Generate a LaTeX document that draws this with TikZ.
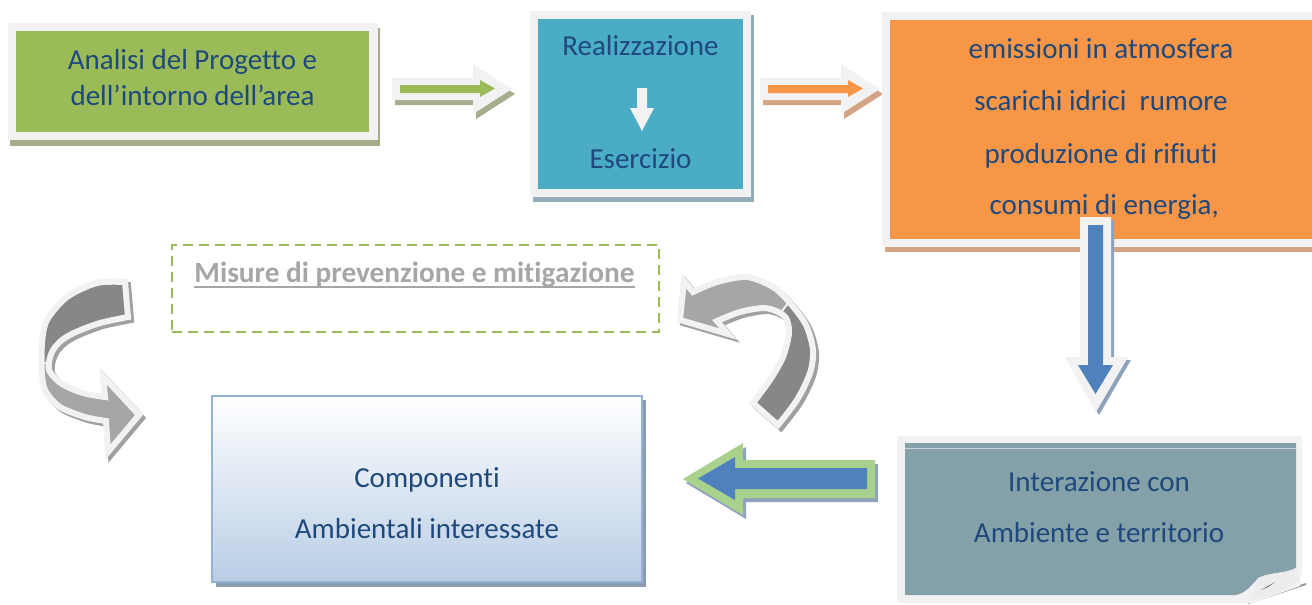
\documentclass[tikz,border=0pt]{standalone}
\usepackage{fontspec}
\setmainfont[Ligatures={NoCommon,NoRequired,NoContextual}]{Carlito}
\definecolor{txt}{HTML}{1F497D}
\definecolor{frame}{HTML}{F2F2F2}
\definecolor{grn}{HTML}{9BBB59}
\definecolor{grnsh}{HTML}{A5AE8B}
\definecolor{cyanb}{HTML}{4BACC6}
\definecolor{cyansh}{HTML}{93ADBB}
\definecolor{orng}{HTML}{F79646}
\definecolor{orngsh}{HTML}{D2A483}
\definecolor{tealb}{HTML}{84A0A8}
\definecolor{blu}{HTML}{4F81BD}
\definecolor{lgrn}{HTML}{A9D18E}
\definecolor{blush}{HTML}{8FA2BC}
\definecolor{cbord}{HTML}{95B3D7}
\definecolor{cbot}{HTML}{B9CDE5}
\definecolor{csh}{HTML}{8D9DB1}
\definecolor{misgray}{HTML}{A6A6A6}
\definecolor{darkg}{HTML}{878787}
\definecolor{lightg}{HTML}{A6A6A6}
\definecolor{gsh}{HTML}{A0A0A0}
\begin{document}
\begin{tikzpicture}[x=1pt,y=-1pt,
  lbl/.style={text=txt, font=\fontsize{29}{35}\selectfont, anchor=base, inner sep=0pt},
  plate/.style={inner sep=0pt, outer sep=0pt, anchor=north west},
  ribbonline/.style={draw=frame, line width=6pt, line join=miter, miter limit=4},
  ribbonshadow/.style={draw=gsh, fill=gsh, line width=6pt, line join=miter, miter limit=4}]
\useasboundingbox (0,0) rectangle (1312,605);
\fill[white] (0,0) rectangle (1312,605);

% ---------- green box
\fill[grnsh] (10,28) rectangle (380,146);
\fill[frame] (8,23) rectangle (378,140);
\node[plate, fill=grn, minimum width=353pt, minimum height=101pt] (analisiBox) at (16,31) {};
\node[lbl] (analisi1) at (192.5,69) {Analisi del Progetto e};
\node[lbl] (analisi2) at (192.5,105) {dell’intorno dell’area};

% ---------- top arrows
\def\whitearrow{(392,78) -- (473,78) -- (473,64) -- (512,89) -- (473,114) -- (473,100) -- (392,100) -- cycle}
\def\innerarrow{(400,85) -- (480,85) -- (480,80) -- (495,88.5) -- (480,97) -- (480,93) -- (400,93) -- cycle}
\begin{scope}[shift={(3pt,-5pt)}]
  \fill[grnsh] \whitearrow;
\end{scope}
\fill[frame] \whitearrow;
\fill[grn] \innerarrow;
\begin{scope}[xshift=368pt]
  \begin{scope}[shift={(3pt,-5pt)}]
    \fill[orngsh] \whitearrow;
  \end{scope}
  \fill[frame] \whitearrow;
  \fill[orng] \innerarrow;
\end{scope}

% ---------- cyan box
\fill[cyansh] (533,15) rectangle (754,202);
\fill[frame] (530,11) rectangle (751,197);
\node[plate, fill=cyanb, minimum width=205pt, minimum height=170pt] (realBox) at (538,19) {};
\node[lbl] (real) at (640.5,55) {Realizzazione};
\node[lbl] (eserc) at (640.5,168) {Esercizio};
\fill[frame] (637,88) -- (647,88) -- (647,108) -- (654,108) -- (642,131) -- (630,108) -- (637,108) -- cycle;

% ---------- orange box
\fill[orngsh] (885,16) rectangle (1320,252);
\fill[frame] (882,12) rectangle (1320,247);
\node[plate, fill=orng, minimum width=430pt, minimum height=219pt] (emBox) at (890,20) {};
\node[lbl] (em1) at (1101,58) {emissioni in atmosfera};
\node[lbl] (em2) at (1101,110) {scarichi idrici\ \ rumore};
\node[lbl] (em3) at (1101,163) {produzione di rifiuti};
\node[lbl] (em4) at (1101,214) {\ consumi di energia,};

% ---------- blue down arrow
\def\downwhite{(1080,217) -- (1111,217) -- (1111,357) -- (1128,357) -- (1096,412) -- (1065,357) -- (1080,357) -- cycle}
\begin{scope}[shift={(3pt,-3pt)}]
  \fill[blush] \downwhite;
\end{scope}
\fill[frame] \downwhite;
\fill[blu] (1088,225) -- (1103,225) -- (1103,365) -- (1113,365) -- (1095.5,394) -- (1078,365) -- (1088,365) -- cycle;

% ---------- Interazione box
\draw[gray!80, line width=2pt] (1248,603) -- (1306,584);
\fill[frame, rounded corners=3pt] (897,436) -- (1302,436) -- (1302,572) [sharp corners] -- (1300,586) -- (1252,603) -- (897,603) -- cycle;
\fill[tealb] (905,443) -- (1296,443) -- (1296,568) .. controls (1285,574) and (1270,572) .. (1258,578) .. controls (1252,585) and (1245,594) .. (1235,595) -- (905,595) -- cycle;
\fill[gray!15] (1258,578) .. controls (1270,572) and (1285,574) .. (1296,568) -- (1299,580) .. controls (1290,588) and (1272,596) .. (1250,600) -- cycle;
\fill[tealb!60!black] (1261,590) -- (1275,582) -- (1268,587) -- cycle;
\draw[white!55!tealb, line width=1pt] (905,448) -- (1296,448);
\node[inner sep=0pt] (interBox) at (1100,519) {};
\node[lbl] (inter1) at (1099,491) {Interazione con};
\node[lbl] (inter2) at (1099,542) {Ambiente e territorio};

% ---------- left blue arrow
\def\leftgreen{(875,460) -- (743,460) -- (743,443) -- (683,479) -- (743,515) -- (743,498) -- (875,498) -- cycle}
\begin{scope}[shift={(3pt,-4pt)}]
  \fill[blush] \leftgreen;
\end{scope}
\fill[lgrn] \leftgreen;
\fill[blu] (867,468) -- (735,468) -- (735,457) -- (698,478.5) -- (735,500) -- (735,489) -- (867,489) -- cycle;

% ---------- Componenti box
\fill[csh] (216,400) rectangle (646,587);
\node[plate, draw=cbord, line width=1.5pt, top color=white, bottom color=cbot, minimum width=430pt, minimum height=186pt] (compBox) at (212,396) {};
\node[lbl] (comp1) at (427,487) {Componenti};
\node[lbl] (comp2) at (427,538) {Ambientali interessate};

% ---------- dashed box
\node[plate, draw=grn, line width=2pt, dash pattern=on 10pt off 6pt, minimum width=487pt, minimum height=87pt] (misBox) at (172,245) {};
\node[anchor=base, inner sep=0pt, text=misgray, font=\fontsize{29.3}{35}\selectfont\bfseries] (misure) at (414.5,282) {Misure di prevenzione e mitigazione};
\draw[misgray, line width=1.5pt] ([yshift=-5pt]misure.base west) -- ([yshift=-5pt]misure.base east);

% ---------- left curved arrow
\def\leftribbon{plot[smooth] coordinates {(125,282) (97,283) (67,297) (47,320) (42,343) (42,375) (46,392) (60,407) (85,417) (106,421)} -- (108,452) -- (139,415) -- (103,376) -- plot[smooth] coordinates {(105,397) (83,393) (62,384) (50,372) (49,362) (53,350) (62,340) (76,332) (100,323) (128,317)} -- cycle}
\begin{scope}[shift={(3pt,-3pt)}]
  \path[ribbonshadow] \leftribbon;
\end{scope}
\fill[lightg] \leftribbon;
\fill[darkg] plot[smooth] coordinates {(125,282) (97,283) (67,297) (47,320) (42,343) (42,362)} -- plot[smooth] coordinates {(49,362) (53,350) (62,340) (76,332) (100,323) (128,317)} -- cycle;
\path[ribbonline] \leftribbon;
\draw[frame, line width=2pt] (42,363) -- (50,363);

% ---------- right curved arrow
\def\rightribbon{(680,320) -- (684,281) -- plot[smooth] coordinates {(693,292) (717,282) (747,277) (773,287) (790,303) (806,325) (813,350) (810,373) (797,400) (778,425)} -- plot[smooth] coordinates {(753,403) (770,380) (783,357) (789,333) (786,318) (776,311) (763,308) (740,312) (717,321)} -- (728,334) -- cycle}
\begin{scope}[shift={(3pt,-3pt)}]
  \path[ribbonshadow] \rightribbon;
\end{scope}
\fill[darkg] \rightribbon;
\fill[lightg] (680,320) -- (684,281) -- plot[smooth] coordinates {(693,292) (717,282) (747,277) (773,287) (789,302)} -- plot[smooth] coordinates {(782,311) (763,308) (740,312) (717,321)} -- (728,334) -- cycle;
\path[ribbonline] \rightribbon;
\draw[frame, line width=2pt] (789,302) -- (782,311);
\end{tikzpicture}
\end{document}
